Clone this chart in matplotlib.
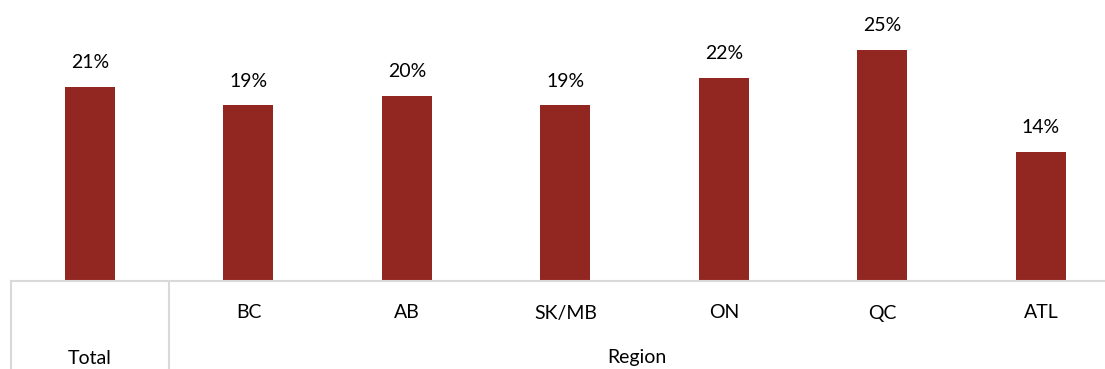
import matplotlib
matplotlib.use("Agg")
import matplotlib.pyplot as plt
from matplotlib.lines import Line2D
import matplotlib.transforms as mtransforms

categories = ["Total", "BC", "AB", "SK/MB", "ON", "QC", "ATL"]
values = [21, 19, 20, 19, 22, 25, 14]
group_labels = ["Total", "Region"]

BAR_COLOR = "#922722"
GRID_COLOR = "#d9d9d9"
FONT = ["Lato", "DejaVu Sans"]
FS = 14

W, H = 1105, 369
fig = plt.figure(figsize=(W / 100, H / 100), dpi=100)

# plot area in pixel terms: left 11, right 1105, zero line at y=281
ax_left, ax_right, ax_bottom = 11, 1105, 281
ax = fig.add_axes([ax_left / W, (H - ax_bottom) / H, (ax_right - ax_left) / W, ax_bottom / H])

x = list(range(len(categories)))
ax.bar(x, values, width=0.315, color=BAR_COLOR)
for xi, v in zip(x, values):
    ax.annotate(f"{v}%", (xi, v), xytext=(0, 17.5), textcoords="offset points",
                ha="center", va="center", fontsize=FS, family=FONT, color="#000000")

ax.set_xlim(-0.498, 6.404)
ax.set_ylim(0, 30.4)
ax.axis("off")

# category table below the axis
def fx(px):
    return px / W

def fy(py):
    return 1 - py / H

fig.add_artist(Line2D([fx(ax_left), fx(ax_right)], [fy(ax_bottom), fy(ax_bottom)],
                      color=GRID_COLOR, lw=1.5, transform=fig.transFigure))

trans = mtransforms.blended_transform_factory(ax.transData, fig.transFigure)
for xb in [-0.5, 0.5]:
    fig.add_artist(Line2D([xb, xb], [fy(ax_bottom), 0], color=GRID_COLOR, lw=1.5,
                          transform=trans))

for xi, cat in zip(x[1:], categories[1:]):
    fig.text(xi, fy(313), cat, transform=trans, ha="center", va="center",
             fontsize=FS, family=FONT)

fig.text((-0.5 + 0.5) / 2, fy(358), group_labels[0], transform=trans,
         ha="center", va="center", fontsize=FS, family=FONT)
fig.text((0.5 + 6.404) / 2, fy(358), group_labels[1], transform=trans,
         ha="center", va="center", fontsize=FS, family=FONT)

fig.savefig("out.png", dpi=100, facecolor="white")
